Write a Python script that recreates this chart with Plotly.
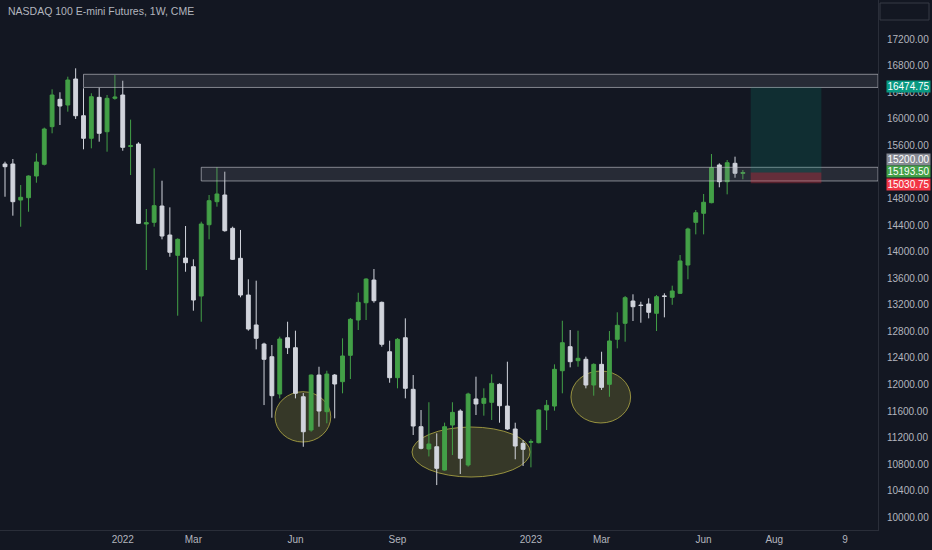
import datetime as dt
import plotly.graph_objects as go

# ---------------- data ----------------
start_week = dt.date(2021, 9, 20)
opens = [15322, 15322, 14779, 14814, 15141, 15317, 15884, 16296, 16210, 16602,
         16049, 15709, 16326, 15808, 16311, 16361, 15585, 15623, 14418, 14443,
         14689, 14252, 13946, 13906, 13775, 13333, 14407, 14754, 14855, 14353,
         13901, 13348, 12897, 12610, 12419, 11857, 12705, 12555, 11816, 11315,
         12143, 11591, 12143, 12043, 12440, 12972, 13232, 13574, 13238, 12494,
         12103, 12705, 11928, 11365, 11029, 11063, 10712, 11390, 11601, 10788,
         11782, 11717, 11732, 12003, 11676, 11330, 11114, 11130, 11124, 11616,
         11676, 12208, 12570, 12359, 12380, 11993, 12304, 12003, 12681, 12922,
         13258, 13197, 13213, 13073, 13335, 13314, 13374, 13800, 14443, 14579,
         14739, 15307, 15055, 15332, 15180]
highs = [15356, 15397, 15005, 15150, 15483, 15870, 16447, 16402, 16637, 16763,
         16462, 16387, 16471, 16361, 16662, 16576, 15990, 15650, 14644, 15257,
         15070, 14669, 14202, 14388, 13886, 14453, 14855, 15272, 15206, 14378,
         14328, 13585, 13564, 12630, 12595, 12721, 12946, 12811, 11872, 12150,
         12268, 12208, 12158, 12696, 13002, 13383, 13600, 13740, 13250, 12660,
         12700, 12997, 12143, 11616, 11733, 11265, 11426, 11733, 11627, 11877,
         12118, 11943, 12154, 12018, 12344, 11425, 11164, 11175, 11627, 11767,
         12304, 12961, 12821, 12811, 12420, 12319, 12494, 12806, 13088, 13333,
         13359, 13247, 13299, 13348, 13374, 13489, 13951, 14363, 14629, 14870,
         15472, 15332, 15382, 15432, 15231]
lows = [14829, 14543, 14377, 14603, 15040, 15300, 15784, 15909, 16110, 16000,
        15543, 15558, 15658, 15507, 16290, 15522, 15156, 14418, 13725, 14377,
        14187, 13925, 13037, 13699, 13112, 12946, 14187, 14679, 14302, 13876,
        13314, 12811, 12530, 11691, 11500, 11792, 12460, 11792, 11063, 11290,
        11365, 11416, 11491, 11868, 12083, 12821, 12972, 13232, 12570, 12027,
        11943, 11792, 11240, 11024, 10917, 10486, 10702, 10938, 10652, 10763,
        11541, 11531, 11466, 11425, 11315, 10874, 10773, 10753, 11114, 11315,
        11606, 11868, 12259, 12268, 11943, 11832, 11919, 11816, 12545, 12645,
        12957, 12931, 12997, 12806, 13012, 13201, 13364, 13585, 14262, 14262,
        14730, 14971, 14865, 15115, 15091]
closes = [15281, 14754, 14820, 15141, 15352, 15849, 16361, 16195, 16587, 16049,
          15709, 16335, 15784, 16311, 16331, 15573, 15597, 14428, 14438, 14694,
          14237, 13992, 14187, 13835, 13273, 14418, 14769, 14870, 14317, 13886,
          13348, 12836, 12696, 12380, 11832, 12686, 12555, 11868, 11289, 12143,
          11601, 12158, 12008, 12430, 12982, 13238, 13589, 13263, 12606, 12103,
          12681, 11943, 11375, 11039, 11104, 10738, 11365, 11581, 10889, 11857,
          11707, 11792, 12018, 11681, 11330, 11074, 11024, 11140, 11616, 11687,
          12229, 12630, 12344, 12395, 11993, 12304, 11958, 12656, 12892, 13308,
          13172, 13190, 13088, 13323, 13328, 13409, 13861, 14343, 14588, 14745,
          15266, 15055, 15341, 15182, 15193.5]

dates = [start_week + dt.timedelta(weeks=i) for i in range(len(opens))]

# x-axis labels (week index -> text)
tick_weeks = [15, 24, 37, 50, 67, 76, 89, 98, 107]
tick_text = ["2022", "Mar", "Jun", "Sep", "2023", "Mar", "Jun", "Aug", "9"]
price_ticks = list(range(10000, 17201, 400))

# drawn zones (prices) and week anchors
zone_top = (10, 16474.75, 16673)
zone_mid = (25, 15066, 15272)
position = (95, 104, 15193.5, 16474.75, 15030.75)  # start wk, end wk, entry, target, stop
ellipses = [(34.4, 41.5, 11134, 11892), (51.85, 66.9, 10607, 11360), (72.1, 79.7, 11421, 12204)]

# price labels on the scale: value, bg colour, pixel shift
scale_labels = [(16474.75, "#089981", 1), (15200.00, "#868993", 12.5), (15193.50, "#43a047", 1.2),
                (15030.75, "#f23645", -0.8)]

BG = "#131722"
TXT = "#b2b5be"
FONT = "Liberation Sans"


def wk(i):
    return dt.datetime.combine(start_week, dt.time()) + dt.timedelta(days=7 * i)


x_lo = wk(-4.46 / 7)
x_hi = wk(778.5 / 7)

fig = go.Figure()
fig.add_trace(go.Candlestick(
    x=dates, open=opens, high=highs, low=lows, close=closes,
    increasing=dict(line=dict(color="#43a047", width=1), fillcolor="#43a047"),
    decreasing=dict(line=dict(color="#d1d4dc", width=1), fillcolor="#d1d4dc"),
    whiskerwidth=0, showlegend=False, hoverinfo="skip",
))

shapes = []
for (w0, y0, y1) in (zone_top, zone_mid):
    shapes.append(dict(type="rect", xref="x", yref="y", x0=wk(w0), x1=x_hi, y0=y0, y1=y1,
                       fillcolor="rgba(120,123,134,0.2)",
                       line=dict(color="rgba(200,202,210,0.6)", width=1), layer="above"))
w0, w1, entry, target, stop = position
shapes.append(dict(type="rect", xref="x", yref="y", x0=wk(w0), x1=wk(w1), y0=entry, y1=target,
                   fillcolor="rgba(8,153,129,0.18)", line=dict(width=0), layer="above"))
shapes.append(dict(type="rect", xref="x", yref="y", x0=wk(w0), x1=wk(w1), y0=stop, y1=entry,
                   fillcolor="rgba(242,54,69,0.3)", line=dict(width=0), layer="above"))
for (a, b, y0, y1) in ellipses:
    shapes.append(dict(type="circle", xref="x", yref="y", x0=wk(a), x1=wk(b), y0=y0, y1=y1,
                       fillcolor="rgba(160,155,60,0.25)",
                       line=dict(color="rgba(180,172,70,0.8)", width=1), layer="below"))
# small box top-right
shapes.append(dict(type="rect", xref="paper", yref="paper", x0=880 / 878, x1=929 / 878,
                   y0=1 - 20 / 530, y1=1 - 3 / 530, line=dict(color="#363a45", width=1)))

annotations = [dict(text="NASDAQ 100 E-mini Futures, 1W, CME", xref="paper", yref="paper",
                    x=0, y=1, xanchor="left", yanchor="middle", xshift=6, yshift=-11,
                    showarrow=False, font=dict(family=FONT, size=10.5, color=TXT))]
for (v, col, ys) in scale_labels:
    annotations.append(dict(text="%.2f" % v, xref="paper", yref="y", x=1, y=v,
                            xanchor="left", yanchor="middle", xshift=8, yshift=ys,
                            width=42, height=10, align="center",
                            showarrow=False, bgcolor=col, borderpad=0.5,
                            font=dict(family=FONT, size=10, color="#ffffff")))

fig.update_layout(
    width=932, height=550,
    margin=dict(l=0, r=54, t=0, b=20),
    paper_bgcolor=BG, plot_bgcolor=BG,
    shapes=shapes, annotations=annotations,
    font=dict(family=FONT, size=10, color=TXT),
    xaxis=dict(type="date", range=[x_lo, x_hi], rangeslider=dict(visible=False),
               tickvals=[wk(i) for i in tick_weeks], ticktext=tick_text,
               showgrid=False, zeroline=False, showline=True, linecolor="#2a2e39",
               ticks="", tickfont=dict(family=FONT, size=10, color=TXT)),
    yaxis=dict(side="right", range=[9809, 17792], tickvals=price_ticks, tickformat=".2f",
               showgrid=False, zeroline=False, showline=True, linecolor="#2a2e39",
               ticks="", ticklabelstandoff=6, tickfont=dict(family=FONT, size=10, color=TXT)),
)

fig.write_html("out.html", post_script="document.body.style.margin='0';",
               config={"displayModeBar": False})
